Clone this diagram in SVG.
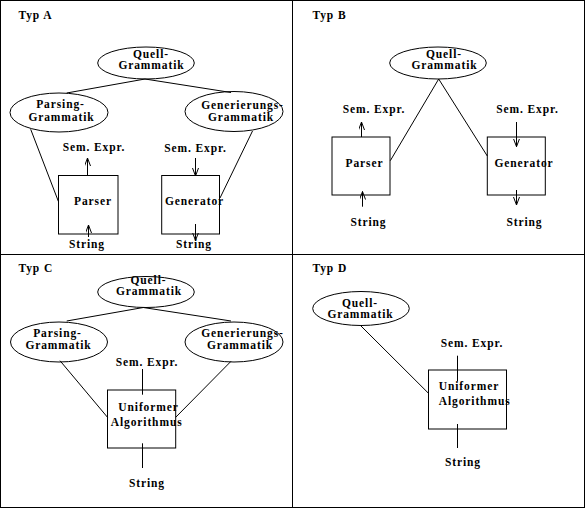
<svg xmlns="http://www.w3.org/2000/svg" width="585" height="508" viewBox="0 0 585 508">
<style>
text{font-family:"Liberation Serif","Times New Roman",serif;font-size:11.5px;font-weight:bold;letter-spacing:0.9px;fill:#000}
.m{text-anchor:middle}
.s{text-anchor:start}
ellipse,rect.n{fill:none;stroke:#000;stroke-width:1}
line{stroke:#000;stroke-width:1}
.frame{fill:none;stroke:#000;stroke-width:1}
</style>
<defs>
<marker id="ah" markerUnits="userSpaceOnUse" markerWidth="10" markerHeight="8" refX="8" refY="3" orient="auto">
<path d="M0,0 L8,3 L0,6" fill="none" stroke="#000" stroke-width="1"/>
</marker>
</defs>
<rect x="0" y="0" width="585" height="508" fill="#fff"/>
<g id="frame">
<rect class="frame" x="0.5" y="0.5" width="584" height="507"/>
<line x1="292.5" y1="0" x2="292.5" y2="508"/>
<line x1="0" y1="254.5" x2="585" y2="254.5"/>
</g>
<g id="connectors">
<line x1="145" y1="79" x2="66.7" y2="93"/>
<line x1="145" y1="79" x2="231" y2="92.5"/>
<line x1="30.7" y1="129.3" x2="58.5" y2="201.7"/>
<line x1="252.5" y1="131" x2="220" y2="198"/>
<line x1="87.5" y1="175.5" x2="87.5" y2="158" marker-end="url(#ah)"/>
<line x1="88.5" y1="237" x2="88.5" y2="225" marker-end="url(#ah)"/>
<line x1="195.5" y1="158" x2="195.5" y2="176" marker-end="url(#ah)"/>
<line x1="195.5" y1="224" x2="195.5" y2="240.5" marker-end="url(#ah)"/>
<line x1="438.7" y1="79" x2="390.3" y2="160.7"/>
<line x1="438.7" y1="79" x2="487.3" y2="156"/>
<line x1="361.5" y1="137" x2="361.5" y2="122" marker-end="url(#ah)"/>
<line x1="362.5" y1="206.7" x2="362.5" y2="191.5" marker-end="url(#ah)"/>
<line x1="516.5" y1="122" x2="516.5" y2="146.7" marker-end="url(#ah)"/>
<line x1="516.5" y1="190" x2="516.5" y2="205" marker-end="url(#ah)"/>
<line x1="143.3" y1="307.5" x2="66.7" y2="321"/>
<line x1="143.3" y1="307.5" x2="231" y2="321"/>
<line x1="60" y1="360.7" x2="107.5" y2="417.3"/>
<line x1="231" y1="361.3" x2="175.7" y2="417.3"/>
<line x1="142.5" y1="369" x2="142.5" y2="394.7"/>
<line x1="142.5" y1="443.3" x2="142.5" y2="468"/>
<line x1="361" y1="326" x2="428.5" y2="393.3"/>
<line x1="457.5" y1="355.7" x2="457.5" y2="381.3"/>
<line x1="457.5" y1="424" x2="457.5" y2="448"/>
</g>
<g id="labels">
<text class="s" x="18.5" y="19">Typ A</text>
<text class="s" x="312.5" y="19">Typ B</text>
<text class="s" x="18.5" y="272.3">Typ C</text>
<text class="s" x="312.5" y="272.3">Typ D</text>
<text class="m" x="94" y="151">Sem. Expr.</text>
<text class="m" x="195.5" y="151.5">Sem. Expr.</text>
<text class="m" x="87" y="248.3">String</text>
<text class="m" x="194" y="248.3">String</text>
<text class="m" x="374" y="112.7">Sem. Expr.</text>
<text class="m" x="527.5" y="112.7">Sem. Expr.</text>
<text class="m" x="368.5" y="226">String</text>
<text class="m" x="524.5" y="226">String</text>
<text class="m" x="147" y="365.7">Sem. Expr.</text>
<text class="m" x="147" y="487.3">String</text>
<text class="m" x="472" y="347.3">Sem. Expr.</text>
<text class="m" x="463" y="465.7">String</text>
</g>
<g id="A-quell">
<ellipse cx="146" cy="63" rx="48.3" ry="16"/>
<text class="m" x="151" y="58">Quell-</text>
<text class="m" x="151.5" y="68.8">Grammatik</text>
</g>
<g id="A-parsing">
<ellipse cx="59" cy="112.5" rx="49" ry="19.5"/>
<text class="m" x="60.5" y="108.3">Parsing-</text>
<text class="m" x="61.5" y="120.7">Grammatik</text>
</g>
<g id="A-generierung">
<ellipse cx="234" cy="111.5" rx="49" ry="20"/>
<text class="m" x="242.5" y="108.5">Generierungs-</text>
<text class="m" x="241" y="121">Grammatik</text>
</g>
<g id="A-parser">
<rect class="n" x="58.5" y="175.5" width="59.5" height="58.5"/>
<text class="m" x="93" y="205">Parser</text>
</g>
<g id="A-generator">
<rect class="n" x="161.7" y="175.5" width="57.8" height="58.5"/>
<text class="m" x="194.5" y="205">Generator</text>
</g>
<g id="B-quell">
<ellipse cx="438" cy="63" rx="48.3" ry="16"/>
<text class="m" x="444" y="58">Quell-</text>
<text class="m" x="444.5" y="68.8">Grammatik</text>
</g>
<g id="B-parser">
<rect class="n" x="332" y="137" width="58" height="58"/>
<text class="m" x="364.5" y="166.7">Parser</text>
</g>
<g id="B-generator">
<rect class="n" x="487.3" y="137" width="58" height="58"/>
<text class="m" x="524" y="166.7">Generator</text>
</g>
<g id="C-quell">
<ellipse cx="146" cy="292" rx="48.3" ry="15.5"/>
<text class="m" x="148.5" y="284">Quell-</text>
<text class="m" x="149" y="294.8">Grammatik</text>
</g>
<g id="C-parsing">
<ellipse cx="59" cy="342" rx="48.5" ry="20"/>
<text class="m" x="57.5" y="337">Parsing-</text>
<text class="m" x="58.5" y="348.5">Grammatik</text>
</g>
<g id="C-generierung">
<ellipse cx="234" cy="342" rx="49" ry="20"/>
<text class="m" x="242.5" y="337">Generierungs-</text>
<text class="m" x="240" y="348.5">Grammatik</text>
</g>
<g id="C-uniform">
<rect class="n" x="107.5" y="390" width="68.2" height="58"/>
<text class="s" x="118.3" y="410.5">Uniformer</text>
<text class="s" x="110.7" y="426">Algorithmus</text>
</g>
<g id="D-quell">
<ellipse cx="361" cy="308.5" rx="48.3" ry="17"/>
<text class="m" x="360" y="307.3">Quell-</text>
<text class="m" x="360.5" y="318.3">Grammatik</text>
</g>
<g id="D-uniform">
<rect class="n" x="428.5" y="370" width="78" height="59"/>
<text class="s" x="438.7" y="390">Uniformer</text>
<text class="s" x="438.7" y="404.7">Algorithmus</text>
</g>
</svg>
